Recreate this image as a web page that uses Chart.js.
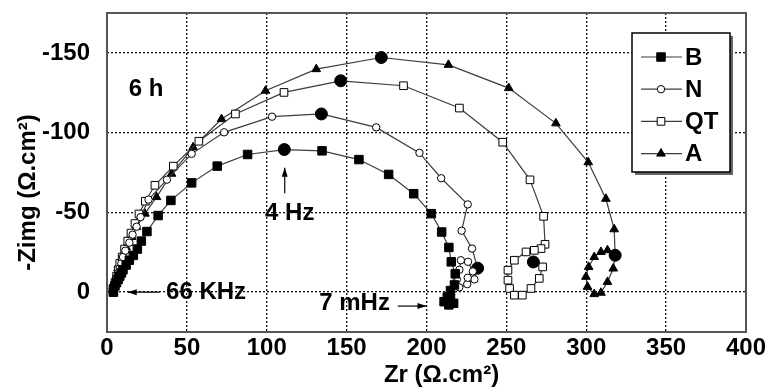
<!DOCTYPE html>
<html>
<head>
<meta charset="utf-8">
<script src="https://cdn.jsdelivr.net/npm/chart.js@4"></script>
<style>
  html, body { margin: 0; background: #fff; }
  #wrap { width: 768px; height: 389px; position: relative; }
</style>
</head>
<body>
<div id="wrap"><canvas id="nyquist"></canvas></div>
<script>
// Impedance spectra after 6 h, Zr / Zimg in ohm.cm2
const bZr   = [4, 4, 5, 6, 7, 8, 9, 10, 12, 14, 16.5, 19, 21.5, 25, 32, 40, 53, 69, 88, 111, 134.6, 157.7, 176.3, 192, 203, 209.5, 214, 215.5, 218, 217.5, 215, 213, 211, 214, 217, 215];
const bZimg = [0, -2, -4, -6, -8, -10, -12, -14, -17, -20, -23, -27, -32, -38, -48, -57.5, -68.5, -79, -86.3, -89.4, -88.6, -83.1, -73.8, -61.7, -49.2, -37.7, -28, -19, -11.5, -4.5, -1, 3, 6, 8, 7, 4];

const nZr   = [4, 4.5, 5, 6, 7, 8, 9, 10, 11.5, 14, 16, 18.5, 21, 26, 37.5, 53, 73.3, 103.3, 134.2, 168.5, 195.6, 209.2, 225.8, 222, 228.5, 232, 230, 225.5, 220.5, 219, 220.6, 221.5, 226, 229, 225.8];
const nZimg = [0, -3, -6, -9, -12, -15, -18, -22, -26, -31, -36, -41, -47, -58, -70.5, -86.7, -100.2, -110, -111.7, -103.3, -87.3, -71.4, -55, -38.5, -27.3, -15, -8, -5, -3, -8, -14, -20, -19, -13, -9];

const qtZr   = [4, 4.5, 5, 6, 7, 8, 9.5, 11, 13, 15, 17.5, 20, 24, 30, 41.5, 57.5, 80.4, 110.8, 146.3, 185.6, 220.6, 247.7, 264.8, 273.3, 274.2, 271.7, 267.5, 262.3, 255, 251, 251, 252, 255, 260, 265.4, 270.6, 272.7, 266.9];
const qtZimg = [0, -3, -6, -10, -14, -18, -22, -27, -32, -37, -43, -49, -57, -67, -79, -94.6, -111.7, -125.2, -132.5, -129.4, -115.4, -94, -70.4, -47.5, -30, -27.3, -26.2, -25.2, -20, -13.75, -7.5, -2.3, 1.9, 1.9, -2.3, -8.6, -15.8, -18.9];

const aZr   = [4, 4.5, 5, 6, 7, 8.5, 10, 12, 13.5, 15.4, 18.5, 23.75, 31, 40.4, 53.9, 71.7, 99.2, 131, 171.7, 213.75, 251.5, 281, 301.25, 312.3, 317.5, 318.1, 316.9, 313.3, 309.2, 305, 300.8, 299.8, 301.5, 305, 309.2, 313.3];
const aZimg = [0, -3, -7, -11, -15, -19, -23, -28, -31, -34.6, -40.8, -49.2, -59.6, -74.2, -90.8, -108.5, -126.25, -139.8, -147.1, -142.5, -127.9, -105.8, -81.4, -58.5, -39.4, -23.1, -14.8, -6.4, 0.4, 1.25, -3.3, -9.6, -15.8, -22, -25.2, -26.25];

// points flagged with a big filled circle (4 Hz and the low-frequency mark)
const bMarks = [19];
const nMarks = [18, 25];
const qtMarks = [18, 37];
const aMarks = [18, 25];

const xTicks = [0, 50, 100, 150, 200, 250, 300, 350, 400];
const yTicks = [-150, -100, -50, 0];

const FONT = '"Liberation Sans", Arial, sans-serif';

function series(label, zr, zimg, marks, style, radius, fill) {
  const marked = i => marks.includes(i);
  return {
    label,
    data: zr.map((x, i) => ({ x, y: zimg[i] })),
    showLine: true,
    borderColor: '#3c3c3c',
    borderWidth: 1.2,
    pointStyle: c => marked(c.dataIndex) ? 'circle' : style,
    pointRadius: c => marked(c.dataIndex) ? 6 : radius,
    pointBackgroundColor: c => marked(c.dataIndex) ? '#000' : fill,
    pointBorderColor: '#000',
    pointBorderWidth: 1,
    legendStyle: style, legendRadius: radius, legendFill: fill
  };
}

function arrow(ctx, x1, y1, x2, y2) {
  const ang = Math.atan2(y2 - y1, x2 - x1);
  ctx.beginPath();
  ctx.moveTo(x1, y1);
  ctx.lineTo(x2, y2);
  ctx.stroke();
  ctx.beginPath();
  ctx.moveTo(x2, y2);
  ctx.lineTo(x2 - 9 * Math.cos(ang) + 3 * Math.sin(ang), y2 - 9 * Math.sin(ang) - 3 * Math.cos(ang));
  ctx.lineTo(x2 - 9 * Math.cos(ang) - 3 * Math.sin(ang), y2 - 9 * Math.sin(ang) + 3 * Math.cos(ang));
  ctx.closePath();
  ctx.fill();
}

const decor = {
  id: 'decor',
  afterDraw(chart) {
    const { ctx, chartArea: a, scales: { x, y } } = chart;
    const px = v => x.getPixelForValue(v), py = v => y.getPixelForValue(v);
    ctx.save();

    // frame
    ctx.strokeStyle = '#555';
    ctx.lineWidth = 2;
    ctx.strokeRect(a.left, a.top, a.right - a.left, a.bottom - a.top);

    // axis titles
    ctx.fillStyle = '#000';
    ctx.font = 'bold 24px ' + FONT;
    ctx.textAlign = 'center';
    ctx.textBaseline = 'middle';
    ctx.fillText('Zr (Ω.cm²)', (a.left + a.right) / 2 + 15, 375);
    ctx.save();
    ctx.translate(28, (a.top + a.bottom) / 2 + 20);
    ctx.rotate(-Math.PI / 2);
    ctx.fillText('-Zimg (Ω.cm²)', 0, 0);
    ctx.restore();

    // annotations
    ctx.fillText('6 h', px(24.4), py(-127));
    ctx.fillText('4 Hz', px(114.4), py(-49.4));
    ctx.fillText('66 KHz', px(62), py(0));
    ctx.fillText('7 mHz', px(155), py(7));
    ctx.strokeStyle = '#000';
    ctx.lineWidth = 1.2;
    arrow(ctx, px(111.25), py(-62), px(111.25), py(-78));
    arrow(ctx, px(33), py(0), px(13), py(0));
    arrow(ctx, px(182), py(8.75), px(200), py(8.75));

    // legend box
    const bw = 98, bh = 139;
    const bx = a.right - 16 - bw, by = a.top + 20;
    ctx.fillStyle = '#666';
    ctx.fillRect(bx + 3, by + 3, bw, bh);
    ctx.fillStyle = '#fff';
    ctx.fillRect(bx, by, bw, bh);
    ctx.strokeStyle = '#000';
    ctx.lineWidth = 1.5;
    ctx.strokeRect(bx, by, bw, bh);

    chart.data.datasets.forEach((ds, i) => {
      const ry = by + 24 + i * 32.2;
      ctx.strokeStyle = '#3c3c3c';
      ctx.lineWidth = 1.2;
      ctx.beginPath();
      ctx.moveTo(bx + 9, ry);
      ctx.lineTo(bx + 50, ry);
      ctx.stroke();
      ctx.fillStyle = ds.legendFill;
      ctx.strokeStyle = '#000';
      ctx.lineWidth = 1;
      Chart.helpers.drawPoint(ctx, { pointStyle: ds.legendStyle, radius: ds.legendRadius, borderWidth: 1 }, bx + 29, ry);
      ctx.fillStyle = '#000';
      ctx.font = 'bold 24px ' + FONT;
      ctx.textAlign = 'left';
      ctx.textBaseline = 'middle';
      ctx.fillText(ds.label, bx + 53, ry + 1);
    });

    ctx.restore();
  }
};

new Chart(document.getElementById('nyquist'), {
  type: 'scatter',
  data: {
    datasets: [
      series('B', bZr, bZimg, bMarks, 'rect', 6, '#000'),
      series('N', nZr, nZimg, nMarks, 'circle', 3.7, '#fff'),
      series('QT', qtZr, qtZimg, qtMarks, 'rect', 5.4, '#fff'),
      series('A', aZr, aZimg, aMarks, 'triangle', 5, '#000')
    ]
  },
  options: {
    responsive: true,
    maintainAspectRatio: false,
    animation: false,
    layout: { padding: { left: 0, top: 13, right: 22, bottom: 0 } },
    plugins: { legend: { display: false }, tooltip: { enabled: false } },
    scales: {
      x: {
        type: 'linear', min: 0, max: 400,
        afterBuildTicks: s => { s.ticks = xTicks.map(v => ({ value: v })); },
        afterFit: s => { s.height = 57; s.paddingLeft = 0; s.paddingRight = 0; },
        grid: { color: '#111', lineWidth: 1.3, drawTicks: false },
        border: { display: false, dash: [2, 2] },
        ticks: { color: '#000', padding: 2, maxRotation: 0, font: { family: FONT, size: 24, weight: 'bold' } }
      },
      y: {
        type: 'linear', min: -175, max: 25, reverse: true,
        afterBuildTicks: s => { s.ticks = yTicks.map(v => ({ value: v })); },
        afterFit: s => { s.width = 107; s.paddingTop = 0; s.paddingBottom = 0; },
        grid: { color: '#111', lineWidth: 1.3, drawTicks: false },
        border: { display: false, dash: [2, 2] },
        ticks: { color: '#000', padding: 17, font: { family: FONT, size: 24, weight: 'bold' } }
      }
    }
  },
  plugins: [decor]
});
</script>
</body>
</html>
